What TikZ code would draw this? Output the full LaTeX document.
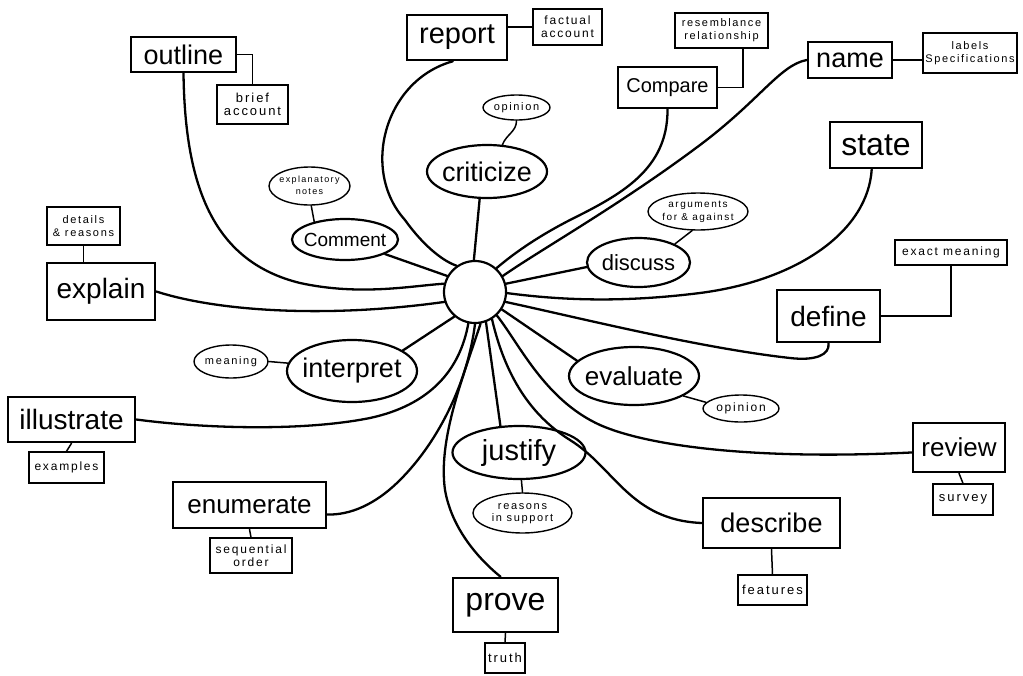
\documentclass[tikz,border=0pt]{standalone}
\usepackage{fontspec}
\setmainfont{Liberation Sans}
\newfontfamily\smallfont[LetterSpace=15]{Liberation Sans}
\usetikzlibrary{shapes.geometric}
\newcommand{\ztxt}[1]{\makebox[0pt]{#1}}
\newcommand{\ztwo}[2]{\makebox[0pt]{\begin{tabular}{@{}c@{}}#1\\#2\end{tabular}}}
\tikzset{
  wh/.style 2 args={minimum width=#1pt, minimum height=#2pt},
  bx/.style={draw, rectangle, line width=2.6pt, inner sep=0pt, font=\fontsize{#1}{#1}\selectfont},
  sbx/.style={draw, rectangle, line width=1.4pt, inner sep=0pt, align=center, font=\smallfont\fontsize{#1}{13}\selectfont},
  el/.style={draw, ellipse, line width=2.2pt, inner sep=0pt, font=\fontsize{#1}{#1}\selectfont},
  sel/.style={draw, ellipse, line width=1.4pt, inner sep=0pt, font=\smallfont\fontsize{#1}{12.5}\selectfont},
  conn/.style={line width=2.3pt, line cap=round, line join=round},
  sconn/.style={line width=1.5pt, line cap=round},
}
\begin{document}
\begin{tikzpicture}[x=1pt, y=-1pt]
\useasboundingbox (0,0) rectangle (1023,675);

% centre
\node[circle, draw, line width=2.2pt, minimum size=62pt, inner sep=0pt] (c) at (475,292) {};

% big boxes
\node[bx=27, wh={105}{35}] (outline) at (183.5,54.5) {outline};
\node[bx=29, wh={100}{45}] (report) at (457,37.5) {report};
\node[bx=20, wh={99}{41}] (compare) at (667.5,87.5) {Compare};
\node[bx=27, wh={84}{36}] (name) at (850,60) {name};
\node[bx=32, wh={92}{46}] (state) at (876,145) {state};
\node[bx=28, wh={103}{52}] (define) at (828.5,316) {define};
\node[bx=26, wh={92}{49}] (review) at (959,447.5) {review};
\node[bx=27, wh={137}{50}] (describe) at (771.5,523) {describe};
\node[bx=32, wh={105}{54}] (prove) at (505.5,605) {prove};
\node[bx=26, wh={153}{46}] (enumerate) at (249.5,505) {enumerate};
\node[bx=28, wh={127}{45}] (illustrate) at (71.5,419.5) {illustrate};
\node[bx=28, wh={108}{57}] (explain) at (101,291.5) {explain};

% small boxes
\node[sbx=13, wh={71}{39}] (brief) at (252.5,104.5) {brief\\account};
\node[sbx=12, wh={69}{36}] (factual) at (567.5,27) {factual\\account};
\node[sbx=11, wh={93}{35}] (resem) at (721.5,30.5) {resemblance\\relationship};
\node[sbx=11, wh={94}{40}] (labels) at (970,53) {labels\\Specifications};
\node[sbx=12, wh={112}{25}] (exact) at (951,252.5) {exact meaning};
\node[sbx=13, wh={60}{31}] (survey) at (963,499.5) {survey};
\node[sbx=13, wh={69}{30}] (features) at (772.5,590) {features};
\node[sbx=13, wh={40}{30}] (truth) at (505,658) {truth};
\node[sbx=12, wh={82}{35}] (seq) at (251,555.5) {sequential\\order};
\node[sbx=12, wh={75}{31}] (examples) at (66.5,467.5) {examples};
\node[sbx=11, wh={73}{38}] (details) at (83.5,226) {details\\\& reasons};

% small ellipses
\node[sel=11, wh={67}{25}] (op1) at (516.5,107.5) {\ztxt{opinion}};
\node[sel=9, wh={81}{38}] (expl) at (309.5,186) {\ztwo{explanatory}{notes}};
\node[sel=10, wh={100}{37}] (args) at (698,211.5) {\ztwo{arguments}{for \& against}};
\node[sel=12, wh={76}{27}] (op2) at (741,408.5) {\ztxt{opinion}};
\node[sel=11, wh={74}{33}] (meaning) at (231,361.5) {\ztxt{meaning}};
\node[sel=11, wh={99}{40}] (reasons) at (522.5,513) {\ztwo{reasons}{in support}};

% big ellipses
\node[el=27, wh={120}{53}] (criticize) at (487,171.5) {\ztxt{criticize}};
\node[el=19, wh={106}{41}] (comment) at (345,239.5) {\ztxt{Comment}};
\node[el=22, wh={103}{49}] (discuss) at (638.5,262.5) {\ztxt{discuss}};
\node[el=26, wh={130}{58}] (evaluate) at (634,376) {\ztxt{evaluate}};
\node[el=27, wh={130}{62}] (interpret) at (352,371) {\ztxt{interpret}};
\node[el=29, wh={133}{53}] (justify) at (519,452.5) {\ztxt{justify}};

% main connectors
\draw[conn] (outline.south) .. controls (185,190) and (215,262) .. (300,283) .. controls (360,296) and (410,286) .. (c.165);
\draw[conn] (explain.east) .. controls (220,312) and (330,318) .. (c.198);
\draw[conn] (comment.-20) -- (c.150);
\draw[conn] (report.-100) .. controls (385,80) and (360,170) .. (405,220) .. controls (425,248) and (445,262) .. (c.125);
\draw[conn] (criticize.-105) -- (c.92);
\draw[conn] (compare.south) .. controls (668,170) and (620,195) .. (570,220) .. controls (535,238) and (512,255) .. (c.48);
\draw[conn] (name.west) .. controls (780,65) and (760,100) .. (700,145) .. controls (620,205) and (540,250) .. (c.30);
\draw[conn] (c.15) -- (discuss.185);
\draw[conn] (c.-2) .. controls (560,300) and (620,303) .. (700,293) .. controls (800,280) and (868,230) .. (state.-100);
\draw[conn] (c.-18) .. controls (580,318) and (700,348) .. (790,358) .. controls (815,361) and (830,355) .. (define.south);
\draw[conn] (c.-33) -- (evaluate.165);
\draw[conn] (c.-47) .. controls (520,345) and (545,400) .. (600,425) .. controls (650,447) and (760,460) .. (review.186);
\draw[conn] (c.-58) .. controls (505,375) and (530,415) .. (570,440) .. controls (615,468) and (630,520) .. (describe.west);
\draw[conn] (c.-70) -- (justify.125);
\draw[conn] (c.-80) .. controls (462,380) and (438,440) .. (445,490) .. controls (452,530) and (480,560) .. (prove.100);
\draw[conn] (c.-90) .. controls (468,380) and (440,440) .. (400,480) .. controls (375,505) and (350,515) .. (enumerate.-7);
\draw[conn] (c.-102) .. controls (460,370) and (430,405) .. (370,418) .. controls (300,432) and (200,428) .. (illustrate.east);
\draw[conn] (interpret.22) -- (c.-130);

% small connectors
\draw[sconn] (expl.-85) -- (comment.150);
\draw[sconn] (op1.south) to[out=-90,in=70] (criticize.60);
\draw[sconn] (evaluate.-22) -- (op2.170);
\draw[sconn] (args.-107) -- (discuss.27);
\draw[sconn] (meaning.east) -- (interpret.173);
\draw[sconn] (justify.-85) -- (reasons.north);
\draw[sconn] (outline.east) -| (brief.north);
\draw[sconn] (report.east |- factual.west) -- (factual.west);
\draw[sconn] (compare.east) -| (resem.-40);
\draw[sconn] (name.east) -- (name.east -| labels.west);
\draw[sconn] (define.east) -| (exact.south);
\draw[sconn] (review.south) -- (survey.north);
\draw[sconn] (describe.south) -- (features.north);
\draw[sconn] (prove.south) -- (truth.north);
\draw[sconn] (enumerate.south) -- (seq.north);
\draw[sconn] (illustrate.south) -- (examples.north);
\draw[sconn] (details.south) -- (details.south |- explain.north);
\end{tikzpicture}
\end{document}
